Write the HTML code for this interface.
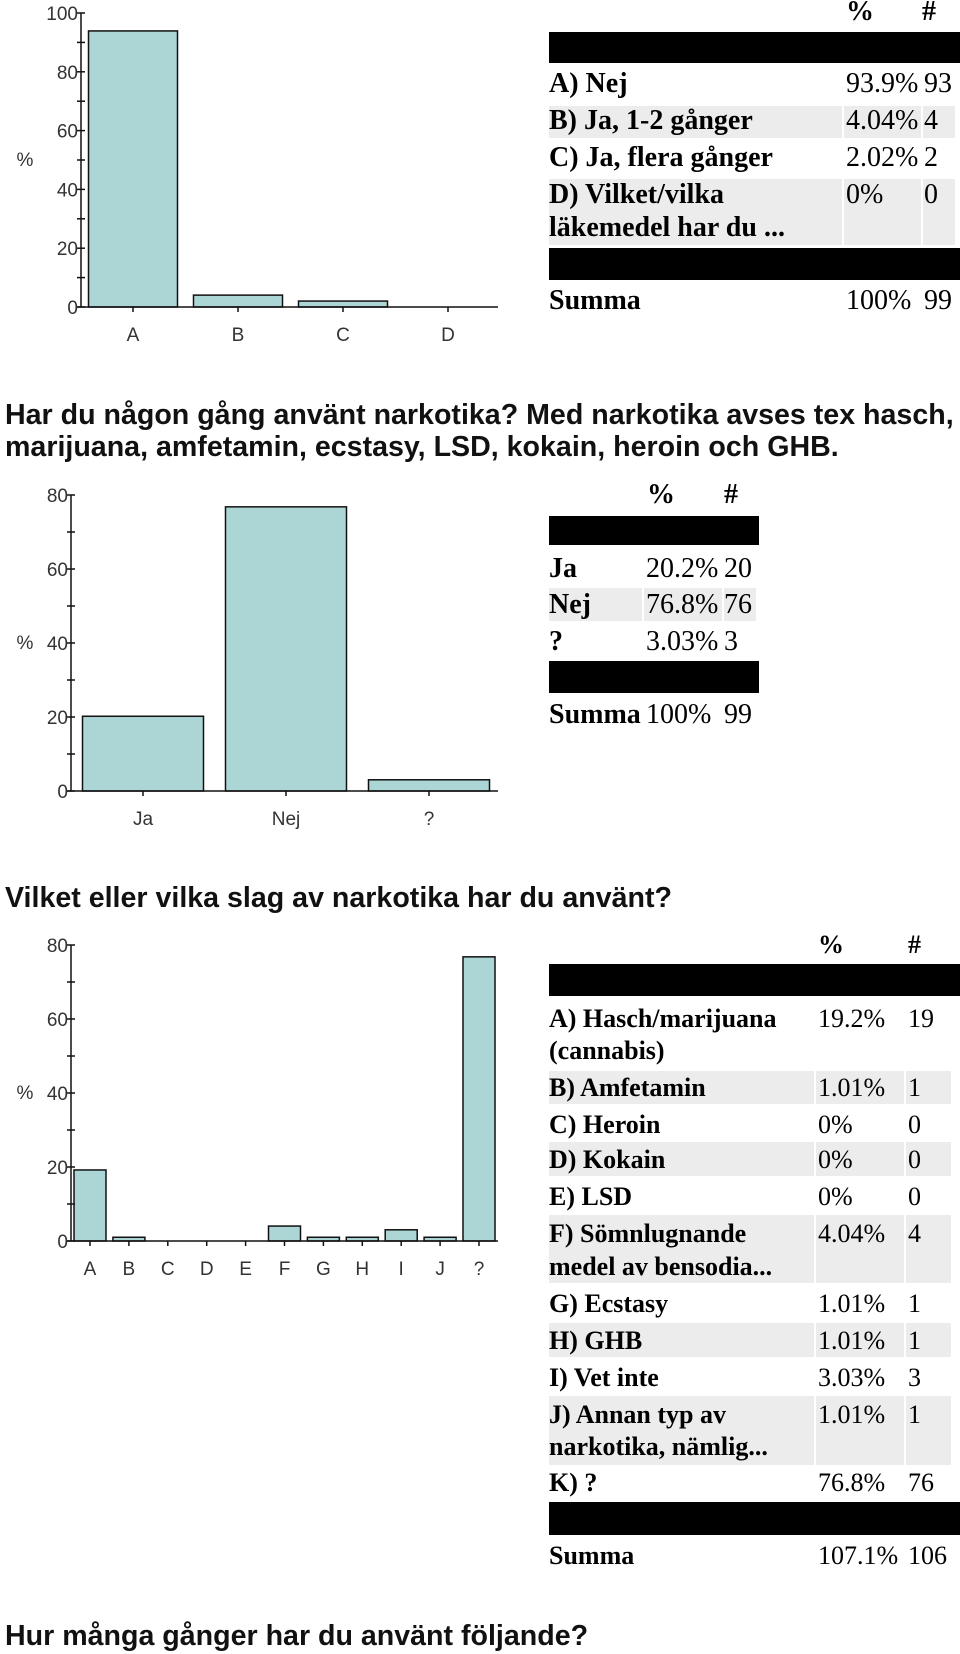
<!DOCTYPE html>
<html><head><meta charset="utf-8">
<style>
body{margin:0;background:#fff;width:960px;height:1654px;position:relative;overflow:hidden}
.t{position:absolute;font-family:"Liberation Serif",serif;font-size:28px;color:#000;white-space:nowrap;line-height:32px}
.t3 .t{font-size:26px}
.b{font-weight:bold}
.bg{position:absolute;background:#ececec}
.blk{position:absolute;background:#000}
.h{position:absolute;font-family:"Liberation Sans",sans-serif;font-weight:bold;font-size:28.6px;white-space:nowrap;color:#111;line-height:32px}
svg{position:absolute;left:0;top:0}
</style></head><body>
<svg id="charts" width="960" height="1654"></svg>

<!-- Table 1 -->
<div>
<div class="t b" style="left:846px;top:-4px">%</div>
<div class="t b" style="left:922px;top:-4px">#</div>
<div class="blk" style="left:549px;top:32px;width:411px;height:31px"></div>
<div class="t b" style="left:549px;top:68px">A) Nej</div><div class="t" style="left:846px;top:68px">93.9%</div><div class="t" style="left:924px;top:68px">93</div>
<div class="bg" style="left:549px;top:106px;width:293px;height:32px"></div><div class="bg" style="left:844px;top:106px;width:77px;height:32px"></div><div class="bg" style="left:923px;top:106px;width:32px;height:32px"></div>
<div class="t b" style="left:549px;top:105px">B) Ja, 1-2 gånger</div><div class="t" style="left:846px;top:105px">4.04%</div><div class="t" style="left:924px;top:105px">4</div>
<div class="t b" style="left:549px;top:142px">C) Ja, flera gånger</div><div class="t" style="left:846px;top:142px">2.02%</div><div class="t" style="left:924px;top:142px">2</div>
<div class="bg" style="left:549px;top:179px;width:293px;height:66px"></div><div class="bg" style="left:844px;top:179px;width:77px;height:66px"></div><div class="bg" style="left:923px;top:179px;width:32px;height:66px"></div>
<div class="t b" style="left:549px;top:179px">D) Vilket/vilka</div><div class="t b" style="left:549px;top:212px">läkemedel har du ...</div><div class="t" style="left:846px;top:179px">0%</div><div class="t" style="left:924px;top:179px">0</div>
<div class="blk" style="left:549px;top:248px;width:411px;height:32px"></div>
<div class="t b" style="left:549px;top:285px">Summa</div><div class="t" style="left:846px;top:285px">100%</div><div class="t" style="left:924px;top:285px">99</div>
</div>

<div class="h" style="left:5px;top:399px">Har du någon gång använt narkotika? Med narkotika avses tex hasch,</div>
<div class="h" style="left:5px;top:431px">marijuana, amfetamin, ecstasy, LSD, kokain, heroin och GHB.</div>

<!-- Table 2 -->
<div>
<div class="t b" style="left:647px;top:479px">%</div><div class="t b" style="left:724px;top:479px">#</div>
<div class="blk" style="left:549px;top:516px;width:210px;height:29px"></div>
<div class="t b" style="left:549px;top:553px">Ja</div><div class="t" style="left:646px;top:553px">20.2%</div><div class="t" style="left:724px;top:553px">20</div>
<div class="bg" style="left:549px;top:588px;width:93px;height:33px"></div><div class="bg" style="left:644px;top:588px;width:78px;height:33px"></div><div class="bg" style="left:724px;top:588px;width:32px;height:33px"></div>
<div class="t b" style="left:549px;top:589px">Nej</div><div class="t" style="left:646px;top:589px">76.8%</div><div class="t" style="left:724px;top:589px">76</div>
<div class="t b" style="left:549px;top:626px">?</div><div class="t" style="left:646px;top:626px">3.03%</div><div class="t" style="left:724px;top:626px">3</div>
<div class="blk" style="left:549px;top:661px;width:210px;height:32px"></div>
<div class="t b" style="left:549px;top:699px">Summa</div><div class="t" style="left:646px;top:699px">100%</div><div class="t" style="left:724px;top:699px">99</div>
</div>

<div class="h" style="left:5px;top:882px">Vilket eller vilka slag av narkotika har du använt?</div>

<!-- Table 3 -->
<div class="t3">
<div class="t b" style="left:818px;top:929px">%</div><div class="t b" style="left:908px;top:929px">#</div>
<div class="blk" style="left:549px;top:964px;width:411px;height:32px"></div>
<div class="t b" style="left:549px;top:1003px">A) Hasch/marijuana</div><div class="t b" style="left:549px;top:1035px">(cannabis)</div><div class="t" style="left:818px;top:1003px">19.2%</div><div class="t" style="left:908px;top:1003px">19</div>
<div class="bg" style="left:549px;top:1071px;width:265px;height:33px"></div><div class="bg" style="left:816px;top:1071px;width:88px;height:33px"></div><div class="bg" style="left:906px;top:1071px;width:45px;height:33px"></div>
<div class="t b" style="left:549px;top:1072px">B) Amfetamin</div><div class="t" style="left:818px;top:1072px">1.01%</div><div class="t" style="left:908px;top:1072px">1</div>
<div class="t b" style="left:549px;top:1109px">C) Heroin</div><div class="t" style="left:818px;top:1109px">0%</div><div class="t" style="left:908px;top:1109px">0</div>
<div class="bg" style="left:549px;top:1142px;width:265px;height:34px"></div><div class="bg" style="left:816px;top:1142px;width:88px;height:34px"></div><div class="bg" style="left:906px;top:1142px;width:45px;height:34px"></div>
<div class="t b" style="left:549px;top:1144px">D) Kokain</div><div class="t" style="left:818px;top:1144px">0%</div><div class="t" style="left:908px;top:1144px">0</div>
<div class="t b" style="left:549px;top:1181px">E) LSD</div><div class="t" style="left:818px;top:1181px">0%</div><div class="t" style="left:908px;top:1181px">0</div>
<div class="bg" style="left:549px;top:1215px;width:265px;height:68px"></div><div class="bg" style="left:816px;top:1215px;width:88px;height:68px"></div><div class="bg" style="left:906px;top:1215px;width:45px;height:68px"></div>
<div class="t b" style="left:549px;top:1218px">F) Sömnlugnande</div><div class="t b" style="left:549px;top:1251px">medel av bensodia...</div><div class="t" style="left:818px;top:1218px">4.04%</div><div class="t" style="left:908px;top:1218px">4</div>
<div class="t b" style="left:549px;top:1288px">G) Ecstasy</div><div class="t" style="left:818px;top:1288px">1.01%</div><div class="t" style="left:908px;top:1288px">1</div>
<div class="bg" style="left:549px;top:1323px;width:265px;height:34px"></div><div class="bg" style="left:816px;top:1323px;width:88px;height:34px"></div><div class="bg" style="left:906px;top:1323px;width:45px;height:34px"></div>
<div class="t b" style="left:549px;top:1325px">H) GHB</div><div class="t" style="left:818px;top:1325px">1.01%</div><div class="t" style="left:908px;top:1325px">1</div>
<div class="t b" style="left:549px;top:1362px">I) Vet inte</div><div class="t" style="left:818px;top:1362px">3.03%</div><div class="t" style="left:908px;top:1362px">3</div>
<div class="bg" style="left:549px;top:1396px;width:265px;height:69px"></div><div class="bg" style="left:816px;top:1396px;width:88px;height:69px"></div><div class="bg" style="left:906px;top:1396px;width:45px;height:69px"></div>
<div class="t b" style="left:549px;top:1399px">J) Annan typ av</div><div class="t b" style="left:549px;top:1431px">narkotika, nämlig...</div><div class="t" style="left:818px;top:1399px">1.01%</div><div class="t" style="left:908px;top:1399px">1</div>
<div class="t b" style="left:549px;top:1467px">K) ?</div><div class="t" style="left:818px;top:1467px">76.8%</div><div class="t" style="left:908px;top:1467px">76</div>
<div class="blk" style="left:549px;top:1502px;width:411px;height:33px"></div>
<div class="t b" style="left:549px;top:1540px">Summa</div><div class="t" style="left:818px;top:1540px">107.1%</div><div class="t" style="left:908px;top:1540px">106</div>
</div>

<div class="h" style="left:5px;top:1620px">Hur många gånger har du använt följande?</div>

<script>
const cats1 = ["A","B","C","D"];
const vals1 = [93.9, 4.04, 2.02, 0];
const ticks1 = [0,20,40,60,80,100];
const cats2 = ["Ja","Nej","?"];
const vals2 = [20.2, 76.8, 3.03];
const ticks2 = [0,20,40,60,80];
const cats3 = ["A","B","C","D","E","F","G","H","I","J","?"];
const vals3 = [19.2, 1.01, 0, 0, 0, 4.04, 1.01, 1.01, 3.03, 1.01, 76.8];
const ticks3 = [0,20,40,60,80];

const NS = "http://www.w3.org/2000/svg";
const svg = document.getElementById("charts");
function mk(tag, attrs, parent){
  const e = document.createElementNS(NS, tag);
  for (const k in attrs) e.setAttribute(k, attrs[k]);
  (parent||svg).appendChild(e);
  return e;
}
function chart(name, cats, vals, ticks, cfg){
  const g = mk("g", {});
  
  
  const max = ticks[ticks.length-1];
  const y = v => cfg.y0 - (v/max)*(cfg.y0-cfg.yTop);
  const xc = i => cfg.c0 + cfg.step*i;
  cats.forEach((c,i)=>{
    if (vals[i] > 0) {
      const r = mk("rect", {x: xc(i)-cfg.bw/2, y: y(vals[i]), width: cfg.bw, height: cfg.y0 - y(vals[i]), fill:"#acd5d5", stroke:"#111", "stroke-width":1.5}, g);
      
      
    }
    mk("line", {x1:xc(i), x2:xc(i), y1:cfg.y0, y2:cfg.y0+5, stroke:"#111", "stroke-width":1.5}, g);
    const t = mk("text", {x:xc(i), y:cfg.y0+34, "text-anchor":"middle", "font-family":"Liberation Sans, sans-serif", "font-size":19, fill:"#333"}, g);
    t.textContent = c;
    
    
  });
  mk("line", {x1:cfg.x0, x2:cfg.x0, y1:cfg.yTop, y2:cfg.y0, stroke:"#111", "stroke-width":1.5}, g);
  mk("line", {x1:cfg.x0-4, x2:cfg.xEnd, y1:cfg.y0, y2:cfg.y0, stroke:"#111", "stroke-width":1.5}, g);
  const stepT = ticks[1]-ticks[0];
  for (let v=0; v<=max; v+=stepT/2){
    mk("line", {x1:cfg.x0-4, x2:cfg.x0+4, y1:y(v), y2:y(v), stroke:"#111", "stroke-width":1.5}, g);
  }
  ticks.forEach(v=>{
    const t = mk("text", {x:cfg.x0-3, y:y(v)+7, "text-anchor":"end", "font-family":"Liberation Sans, sans-serif", "font-size":19, fill:"#333"}, g);
    t.textContent = v;
    
    
  });
  const yl = mk("text", {x:cfg.ylx, y:(cfg.y0+cfg.yTop)/2+6, "text-anchor":"middle", "font-family":"Liberation Sans, sans-serif", "font-size":19, fill:"#333"}, g);
  yl.textContent = "%";
  
  
}
chart("chart-medication", cats1, vals1, ticks1, {x0:81, xEnd:498, y0:307, yTop:13, c0:133, step:105, bw:89, ylx:25});
chart("chart-narcotics-used", cats2, vals2, ticks2, {x0:71, xEnd:498, y0:791, yTop:495, c0:143, step:143, bw:121, ylx:25});
chart("chart-narcotics-types", cats3, vals3, ticks3, {x0:71, xEnd:498, y0:1241, yTop:945, c0:90, step:38.9, bw:32, ylx:25});
</script>
</body></html>
